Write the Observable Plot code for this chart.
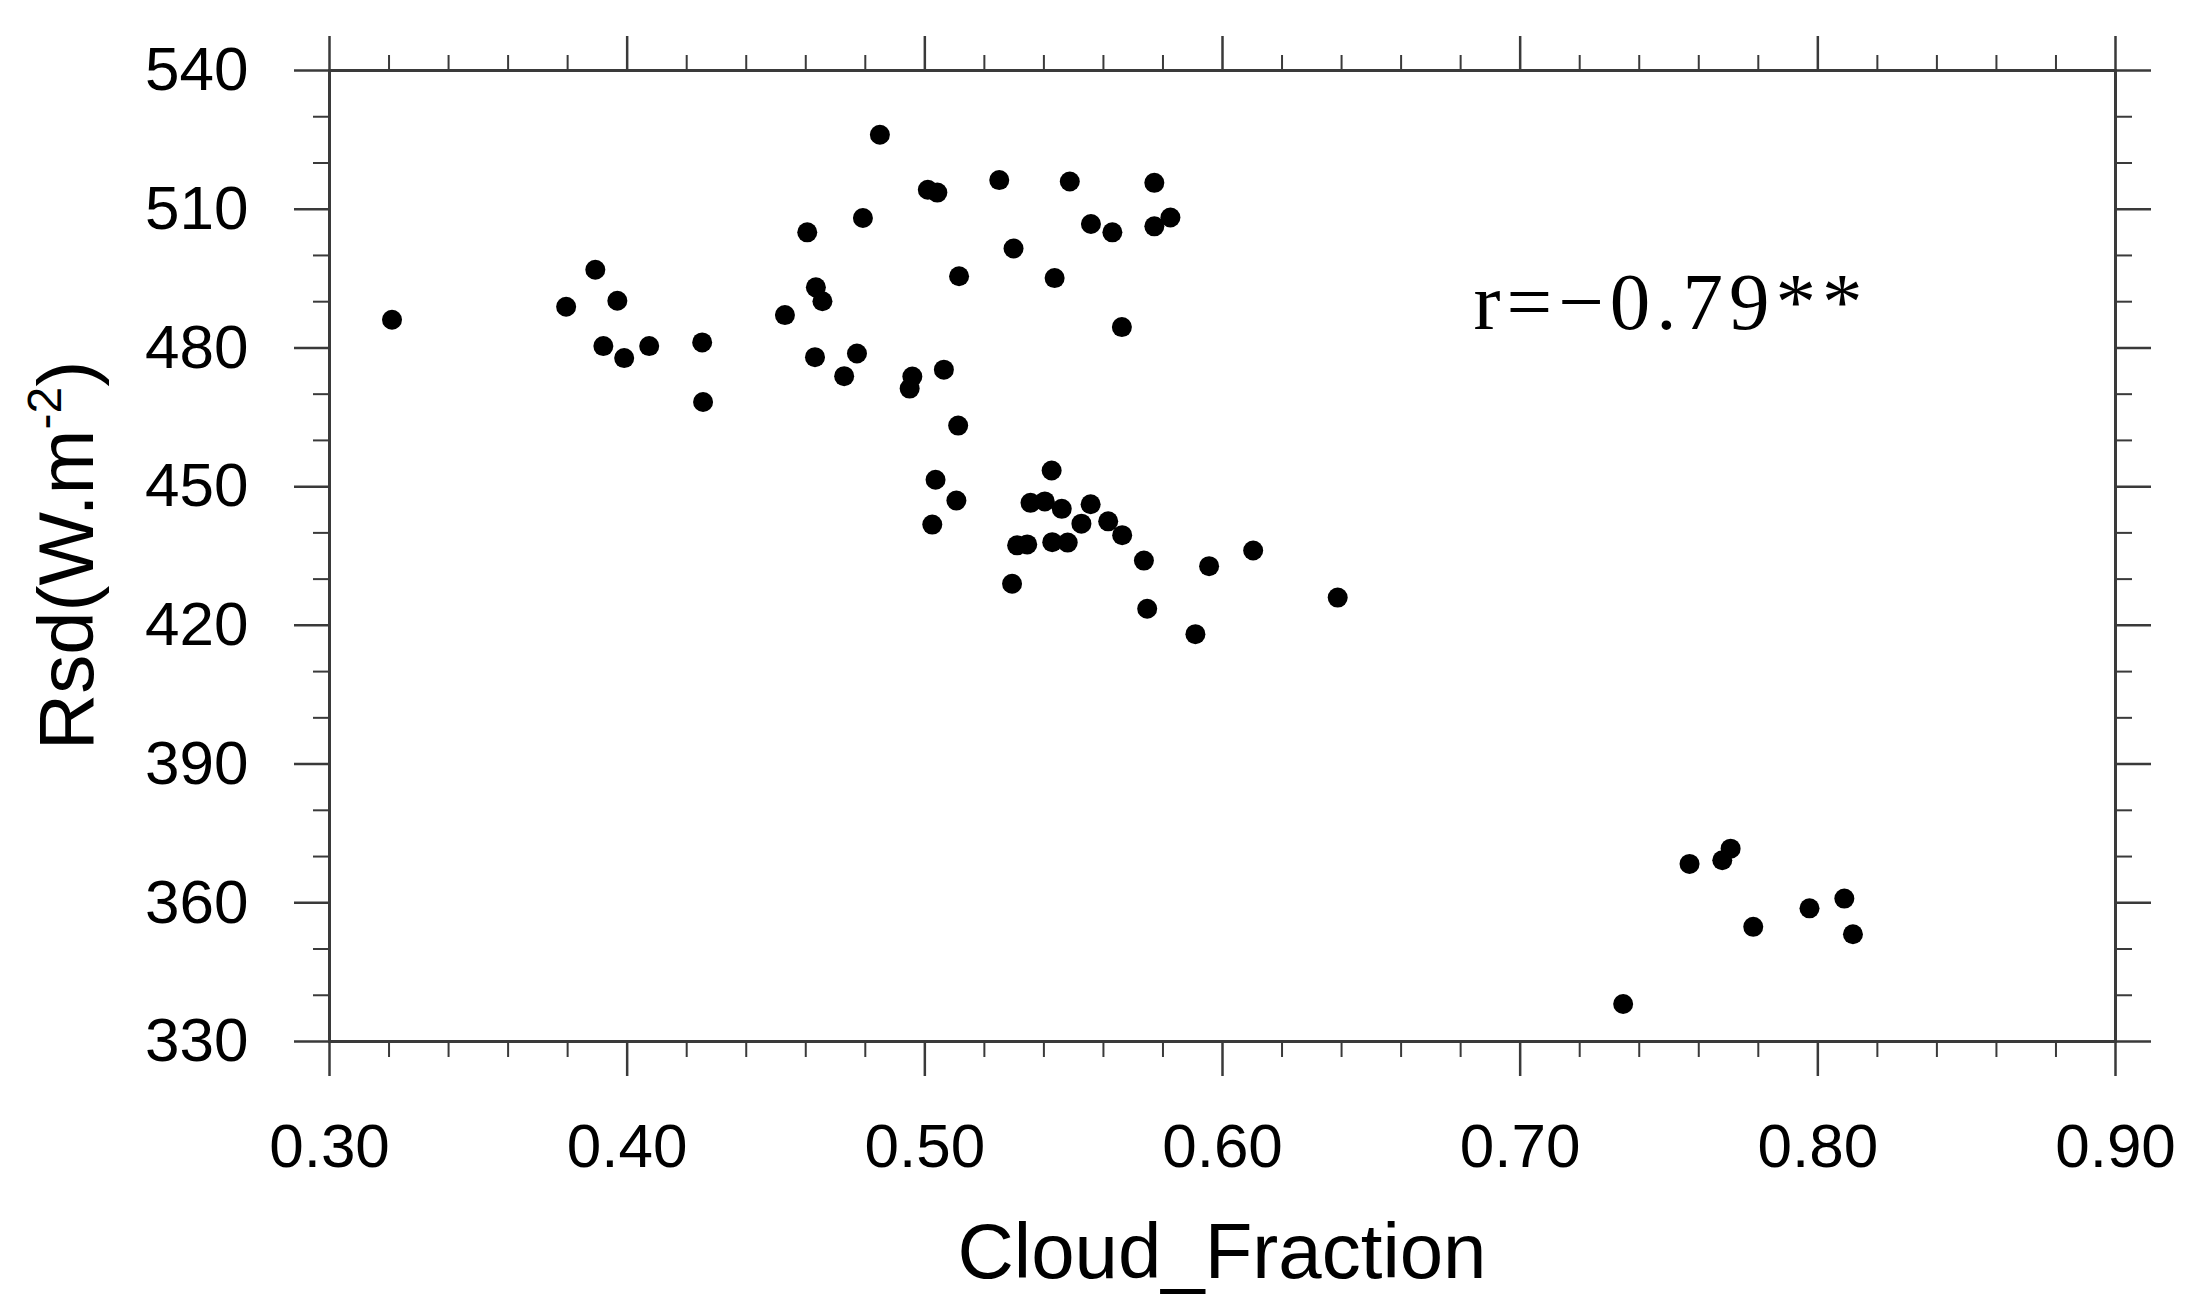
<!DOCTYPE html>
<html>
<head>
<meta charset="utf-8">
<script src="https://cdn.jsdelivr.net/npm/d3@7"></script>
<script src="https://cdn.jsdelivr.net/npm/@observablehq/plot@0.6"></script>
<style>
  html, body { margin: 0; padding: 0; background: #fff; }
  svg { display: block; }
  .rlabel text { letter-spacing: 6px; }
</style>
</head>
<body>
<script>
// ---- data ----
const cloudFraction = [
  0.321, 0.3795, 0.3893, 0.3967, 0.3920, 0.3990, 0.4074, 0.4252, 0.4255, 0.4530,
  0.4605, 0.4634, 0.4656, 0.4631, 0.4729, 0.4772, 0.4792, 0.4849, 0.4958, 0.4949,
  0.5010, 0.5042, 0.5064, 0.5115, 0.5112, 0.5036, 0.5106, 0.5025, 0.5250, 0.5298,
  0.5293, 0.5426, 0.5355, 0.5403, 0.5460, 0.5557, 0.5526, 0.5616, 0.5663, 0.5310,
  0.5344, 0.5428, 0.5480, 0.5736, 0.5747, 0.5909, 0.5955, 0.6103, 0.6387, 0.5487,
  0.5436, 0.5558, 0.5630, 0.5771, 0.5771, 0.5825, 0.5662, 0.7346, 0.7569, 0.7679,
  0.7707, 0.7783, 0.7972, 0.8089, 0.8118
];
const rsd = [
  486.1, 488.9, 496.9, 490.2, 480.4, 477.8, 480.4, 481.2, 468.3, 487.1,
  505.0, 493.1, 490.1, 478.0, 473.9, 478.8, 508.1, 526.1, 473.8, 471.2,
  514.2, 513.6, 475.3, 495.5, 463.2, 451.5, 447.0, 441.8, 516.3, 501.5,
  429.0, 453.5, 446.5, 446.8, 445.2, 446.2, 442.0, 442.5, 439.5, 437.3,
  437.5, 438.0, 437.9, 434.0, 423.6, 418.1, 432.8, 436.2, 426.0, 516.0,
  495.1, 506.8, 505.0, 515.7, 506.3, 508.2, 484.5, 338.1, 368.4, 369.2,
  371.7, 354.8, 358.8, 360.9, 353.2
];
const xMajorTicks = [0.30, 0.40, 0.50, 0.60, 0.70, 0.80, 0.90];
const xMinorTicks = d3.range(15, 46).map(d => d / 50).filter(d => Math.round(d * 100) % 10 !== 0);
const yMajorTicks = [330, 360, 390, 420, 450, 480, 510, 540];
const yMinorTicks = d3.range(330, 541, 10).filter(d => d % 30 !== 0);
const xTitle = "Cloud_Fraction";
const yTitleMain = "Rsd(W.m";
const yTitleSup = "-2";
const yTitleEnd = ")";
const annotation = "r=\u22120.79**";

const points = cloudFraction.map((cf, i) => ({cf, rsd: rsd[i]}));

const axisColor = "#3a3a3a";
const sans = "'Liberation Sans', Arial, Helvetica, sans-serif";

const plot = Plot.plot({
  width: 2186,
  height: 1314,
  marginLeft: 329,
  marginRight: 71,
  marginTop: 70,
  marginBottom: 273,
  style: {fontFamily: sans, fontSize: "62px", background: "#fff", color: "#000", overflow: "visible"},
  x: {domain: [0.3, 0.9]},
  y: {domain: [330, 540]},
  marks: [
    Plot.axisX({anchor: "bottom", ticks: xMajorTicks, tickSize: 35, tickPadding: 46, tickFormat: d3.format(".2f"), label: null, stroke: axisColor, strokeWidth: 2.5, fill: "#000"}),
    Plot.axisX({anchor: "bottom", ticks: xMinorTicks, tickSize: 16, label: null, stroke: axisColor, strokeWidth: 2, fill: "none"}),
    Plot.axisX({anchor: "top", ticks: xMajorTicks, tickSize: 35, label: null, stroke: axisColor, strokeWidth: 2.5, fill: "none"}),
    Plot.axisX({anchor: "top", ticks: xMinorTicks, tickSize: 16, label: null, stroke: axisColor, strokeWidth: 2, fill: "none"}),
    Plot.axisY({anchor: "left", ticks: yMajorTicks, tickSize: 35, tickPadding: 46, label: null, stroke: axisColor, strokeWidth: 2.5, fill: "#000"}),
    Plot.axisY({anchor: "left", ticks: yMinorTicks, tickSize: 16, label: null, stroke: axisColor, strokeWidth: 2, fill: "none"}),
    Plot.axisY({anchor: "right", ticks: yMajorTicks, tickSize: 35, label: null, stroke: axisColor, strokeWidth: 2.5, fill: "none"}),
    Plot.axisY({anchor: "right", ticks: yMinorTicks, tickSize: 16, label: null, stroke: axisColor, strokeWidth: 2, fill: "none"}),
    Plot.frame({stroke: axisColor, strokeWidth: 3}),
    Plot.dot(points, {x: "cf", y: "rsd", r: 10, fill: "#000", stroke: "none"}),
    Plot.text([annotation], {
      text: d => d,
      frameAnchor: "top-left",
      dx: 1144,
      dy: 258,
      lineAnchor: "bottom",
      textAnchor: "start",
      fontFamily: "'Liberation Serif', 'Times New Roman', serif",
      fontSize: 81,
      fill: "#000",
      className: "rlabel"
    })
  ]
});

document.body.appendChild(plot);

// axis titles (real text, placed from the plot's scales)
const xs = plot.scale("x"), ys = plot.scale("y");
const svg = d3.select(plot);
const cx = (xs.apply(0.3) + xs.apply(0.9)) / 2;
const cy = (ys.apply(330) + ys.apply(540)) / 2;

svg.selectAll(".rlabel text").attr("letter-spacing", 6.5);

svg.append("text")
  .attr("x", cx)
  .attr("y", 1278)
  .attr("text-anchor", "middle")
  .attr("font-family", sans)
  .attr("font-size", 78)
  .attr("fill", "#000")
  .text(xTitle);

const yt = svg.append("text")
  .attr("transform", `translate(93,${cy}) rotate(-90)`)
  .attr("text-anchor", "middle")
  .attr("font-family", sans)
  .attr("font-size", 78)
  .attr("fill", "#000");
yt.append("tspan").text(yTitleMain);
yt.append("tspan").attr("font-size", 48).attr("dy", -32).text(yTitleSup);
yt.append("tspan").attr("dy", 32).text(yTitleEnd);
</script>
</body>
</html>
